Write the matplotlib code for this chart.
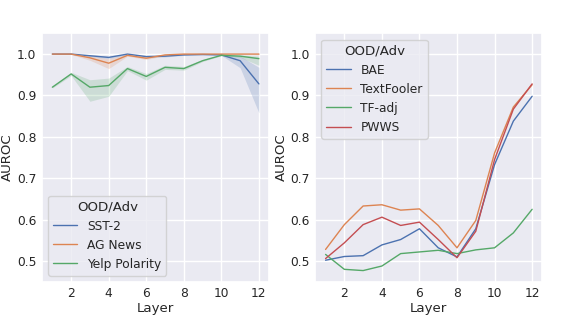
import numpy as np
import matplotlib
matplotlib.use("Agg")
import matplotlib.pyplot as plt
import seaborn as sns

sns.set_theme(style="darkgrid", font_scale=0.8)

layers = np.arange(1, 13)

# left panel: OOD datasets (mean + CI band)
ood_names = ["SST-2", "AG News", "Yelp Polarity"]
sst2 = [1.000, 1.000, 0.996, 0.992, 1.000, 0.994, 0.995, 0.998, 0.999, 0.998, 0.984, 0.928]
sst2_lo = [0.999, 0.999, 0.994, 0.989, 0.998, 0.992, 0.993, 0.997, 0.998, 0.997, 0.967, 0.858]
sst2_hi = [1.000, 1.000, 0.998, 0.995, 1.000, 0.996, 0.997, 0.999, 1.000, 0.999, 0.995, 0.968]
agnews = [1.000, 1.000, 0.991, 0.978, 0.997, 0.990, 0.998, 1.000, 1.000, 1.000, 1.000, 1.000]
agnews_lo = [0.999, 0.999, 0.985, 0.965, 0.995, 0.987, 0.996, 0.999, 0.999, 0.999, 0.999, 0.998]
agnews_hi = [1.000, 1.000, 0.995, 0.989, 0.999, 0.993, 0.999, 1.000, 1.000, 1.000, 1.000, 1.000]
yelp = [0.920, 0.952, 0.920, 0.924, 0.965, 0.946, 0.968, 0.965, 0.984, 0.997, 0.995, 0.989]
yelp_lo = [0.918, 0.948, 0.886, 0.898, 0.960, 0.937, 0.963, 0.961, 0.982, 0.996, 0.992, 0.973]
yelp_hi = [0.922, 0.956, 0.938, 0.942, 0.970, 0.953, 0.973, 0.970, 0.987, 0.998, 0.998, 0.995]

# right panel: adversarial attacks
adv_names = ["BAE", "TextFooler", "TF-adj", "PWWS"]
bae = [0.502, 0.511, 0.513, 0.539, 0.552, 0.578, 0.532, 0.510, 0.578, 0.733, 0.838, 0.898]
textfooler = [0.528, 0.588, 0.633, 0.636, 0.623, 0.626, 0.586, 0.532, 0.598, 0.761, 0.872, 0.926]
tfadj = [0.516, 0.480, 0.477, 0.488, 0.518, 0.522, 0.526, 0.518, 0.527, 0.532, 0.568, 0.625]
pwws = [0.506, 0.544, 0.588, 0.606, 0.586, 0.594, 0.552, 0.508, 0.572, 0.745, 0.867, 0.928]

colors = sns.color_palette("deep")

fig = plt.figure(figsize=(5.68, 3.18), dpi=100)
ax1 = fig.add_axes([0.074, 0.114, 0.400, 0.781])
ax2 = fig.add_axes([0.555, 0.114, 0.400, 0.781], sharey=ax1)

means = [sst2, agnews, yelp]
los = [sst2_lo, agnews_lo, yelp_lo]
his = [sst2_hi, agnews_hi, yelp_hi]
for i, name in enumerate(ood_names):
    ax1.plot(layers, means[i], color=colors[i], lw=1, label=name)
    ax1.fill_between(layers, los[i], his[i], color=colors[i], alpha=0.2, lw=0)

for i, (name, vals) in enumerate(zip(adv_names, [bae, textfooler, tfadj, pwws])):
    ax2.plot(layers, vals, color=colors[i], lw=1, label=name)

for ax in (ax1, ax2):
    ax.set_xlabel("Layer", labelpad=1)
    ax.set_ylabel("AUROC", labelpad=2)
    ax.set_xticks([2, 4, 6, 8, 10, 12])
    ax.set_xlim(0.45, 12.55)
    ax.tick_params(length=0, pad=4)
ax1.set_ylim(0.45, 1.05)
ax1.set_yticks([0.5, 0.6, 0.7, 0.8, 0.9, 1.0])
ax2.tick_params(labelleft=True)

ax1.legend(title="OOD/Adv", loc="lower left")
ax2.legend(title="OOD/Adv", loc="upper left")

fig.savefig("out.png", dpi=100)
